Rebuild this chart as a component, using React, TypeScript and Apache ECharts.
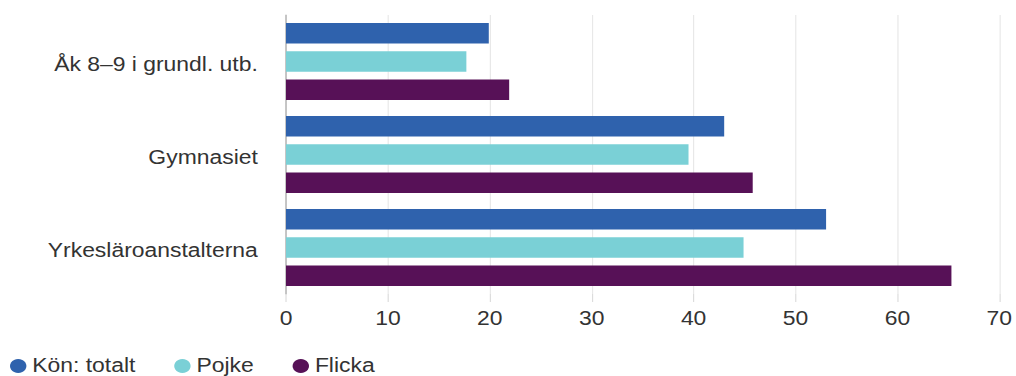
import React, { useEffect, useRef } from "react";
import * as echarts from "echarts";

// Categories (top to bottom) and values per gender group
const categories = ["Åk 8–9 i grundl. utb.", "Gymnasiet", "Yrkesläroanstalterna"];
const seriesNames = ["Kön: totalt", "Pojke", "Flicka"];
const totalt = [19.9, 43.0, 53.0];
const pojke = [17.7, 39.5, 44.9];
const flicka = [21.9, 45.8, 65.3];
const xTicks = { min: 0, max: 70, interval: 10 };

const colors = ["#2f62ad", "#7ad0d6", "#571157"];
const FONT = "'Liberation Sans', Arial, Helvetica, sans-serif";

// The chart is laid out on a narrower canvas and widened horizontally,
// giving the broad lettering of the original artwork.
const OUT_W = 1016;
const OUT_H = 376;
const INNER_W = 865;
const SCALE_X = OUT_W / INNER_W;

export default function App() {
  const ref = useRef<HTMLDivElement>(null);

  useEffect(() => {
    if (!ref.current) return;
    const chart = echarts.init(ref.current, null, { renderer: "svg" });
    const values = [totalt, pojke, flicka];
    chart.setOption({
      animation: false,
      textStyle: { fontFamily: FONT },
      grid: { left: 243.5, right: 14.2, top: 15, bottom: 82, containLabel: false },
      legend: {
        left: 8.5,
        top: 356,
        padding: 0,
        icon: "circle",
        itemWidth: 14,
        itemHeight: 15,
        itemGap: 33,
        textStyle: { fontSize: 19.5, color: "#333", fontFamily: FONT, lineHeight: 17 },
        data: seriesNames,
      },
      xAxis: {
        type: "value",
        min: xTicks.min,
        max: xTicks.max,
        interval: xTicks.interval,
        axisLine: { show: false },
        axisTick: { show: true, length: 8, lineStyle: { color: "#dcdcdc" } },
        splitLine: { lineStyle: { color: "#e8e8e8", width: 1 } },
        axisLabel: { fontSize: 19.5, color: "#333", margin: 15, fontFamily: FONT },
      },
      yAxis: {
        type: "category",
        inverse: true,
        data: categories,
        axisLine: { lineStyle: { color: "#a6a6a6", width: 1 } },
        axisTick: { show: false },
        axisLabel: {
          margin: 24,
          formatter: (v: string) => `{c|${v}}`,
          rich: {
            c: {
              fontSize: 19.5,
              color: "#333",
              fontFamily: FONT,
              padding: [7, 0, 0, 0],
            },
          },
        },
      },
      series: seriesNames.map((name, i) => ({
        name,
        type: "bar",
        data: values[i],
        barWidth: 20.6,
        barGap: "37%",
        itemStyle: { color: colors[i] },
      })),
    });
    return () => chart.dispose();
  }, []);

  return (
    <div
      style={{
        position: "fixed",
        left: 0,
        top: 0,
        width: OUT_W,
        height: OUT_H,
        overflow: "hidden",
        background: "#fff",
      }}
    >
      <div
        ref={ref}
        style={{
          width: INNER_W,
          height: OUT_H,
          transform: `scaleX(${SCALE_X})`,
          transformOrigin: "0 0",
        }}
      />
    </div>
  );
}
